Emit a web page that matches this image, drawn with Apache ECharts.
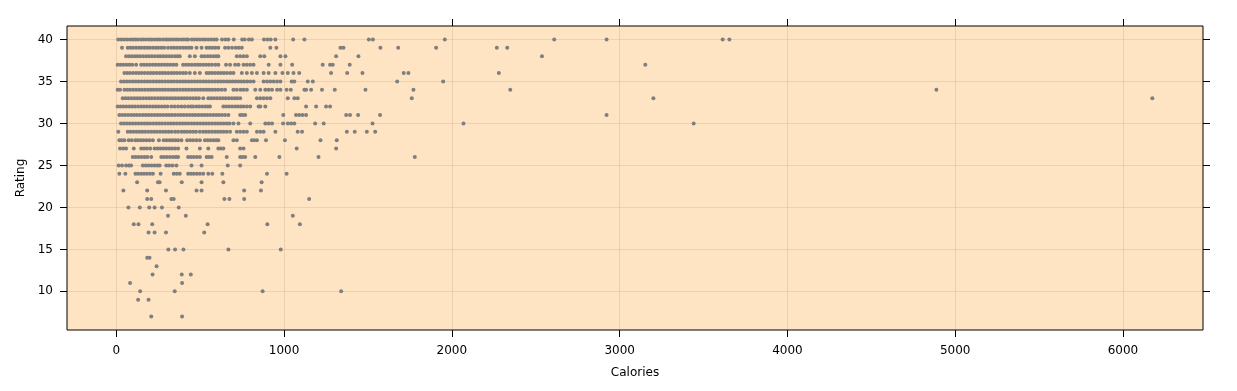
<!DOCTYPE html>
<html>
<head>
<meta charset="utf-8">
<script src="https://cdn.jsdelivr.net/npm/echarts@6/dist/echarts.min.js"></script>
<style>html,body{margin:0;padding:0;background:#fff;}#chart{width:1237px;height:391px;}</style>
</head>
<body>
<div id="chart"></div>
<script>
// Calories values, one list per rating level
const r40 = [12, 30, 48, 66, 84, 100, 115, 130, 148, 162, 178, 195, 210, 228, 245, 260, 278, 295, 308, 322, 338, 355, 370, 388, 402, 418, 428, 450, 465, 482, 498, 515, 530, 548, 565, 582, 598, 630, 650, 668, 700, 750, 765, 790, 808, 880, 900, 920, 948, 1054, 1121, 1505, 1529, 1958, 2610, 2922, 3614, 3654];
const r39 = [34, 68, 85, 100, 118, 135, 150, 168, 185, 200, 218, 235, 250, 268, 285, 308, 328, 345, 362, 380, 398, 415, 432, 448, 478, 508, 538, 555, 572, 590, 608, 648, 668, 690, 712, 730, 748, 918, 954, 1336, 1354, 1574, 1680, 1906, 2268, 2330];
const r38 = [58, 75, 92, 110, 125, 142, 160, 178, 195, 212, 230, 248, 262, 280, 298, 315, 332, 350, 365, 378, 438, 468, 508, 525, 545, 562, 580, 595, 608, 718, 738, 758, 778, 858, 882, 978, 1008, 1310, 1443, 2537];
const r37 = [8, 25, 42, 60, 78, 95, 118, 148, 165, 182, 200, 218, 235, 252, 270, 288, 305, 322, 340, 358, 398, 415, 432, 450, 468, 485, 500, 518, 535, 552, 570, 590, 608, 654, 678, 708, 728, 758, 778, 798, 818, 908, 978, 1048, 1230, 1274, 1290, 1391, 3153];
const r36 = [48, 65, 82, 100, 118, 135, 152, 170, 188, 205, 222, 240, 258, 275, 292, 310, 328, 345, 362, 380, 398, 415, 438, 468, 498, 538, 555, 572, 590, 608, 625, 642, 660, 680, 698, 748, 778, 808, 838, 878, 908, 948, 990, 1022, 1056, 1090, 1280, 1376, 1467, 1713, 1741, 2280];
const r35 = [28, 45, 62, 80, 98, 115, 132, 150, 168, 185, 202, 220, 238, 255, 272, 290, 308, 325, 342, 360, 378, 395, 412, 430, 448, 465, 482, 500, 518, 535, 552, 570, 588, 605, 622, 640, 658, 675, 692, 710, 728, 745, 762, 780, 798, 818, 878, 898, 918, 938, 958, 978, 1045, 1061, 1141, 1171, 1674, 1948];
const r34 = [8, 22, 48, 65, 82, 100, 118, 135, 152, 170, 188, 205, 222, 240, 258, 275, 292, 310, 328, 345, 362, 380, 398, 415, 432, 450, 468, 485, 502, 520, 538, 555, 572, 590, 608, 628, 648, 698, 718, 740, 758, 778, 828, 858, 888, 908, 928, 958, 978, 1015, 1040, 1121, 1131, 1161, 1226, 1302, 1485, 1771, 2348, 4888];
const r33 = [38, 55, 72, 90, 108, 125, 142, 160, 178, 195, 212, 230, 248, 265, 282, 300, 318, 335, 352, 370, 388, 405, 422, 440, 458, 475, 492, 518, 548, 565, 582, 600, 618, 635, 652, 670, 688, 705, 720, 738, 838, 858, 878, 898, 918, 1022, 1061, 1081, 1761, 3201, 6175];
const r32 = [8, 25, 42, 60, 78, 95, 112, 130, 148, 165, 182, 200, 218, 235, 252, 270, 288, 305, 328, 348, 368, 388, 408, 428, 445, 458, 478, 495, 512, 530, 545, 558, 638, 655, 672, 690, 708, 725, 742, 758, 778, 798, 848, 858, 888, 1131, 1191, 1250, 1274];
const r31 = [18, 35, 52, 70, 88, 105, 122, 140, 158, 175, 192, 210, 228, 245, 262, 280, 298, 315, 332, 350, 368, 385, 402, 420, 438, 455, 472, 490, 508, 525, 542, 560, 578, 595, 612, 630, 648, 668, 738, 752, 768, 995, 1071, 1090, 1110, 1131, 1370, 1393, 1441, 1572, 2922];
const r30 = [28, 45, 62, 80, 98, 115, 132, 150, 168, 185, 202, 220, 238, 255, 272, 290, 308, 325, 342, 360, 378, 395, 412, 430, 448, 465, 482, 500, 518, 535, 552, 570, 588, 605, 622, 640, 658, 675, 698, 728, 798, 888, 908, 928, 994, 1022, 1042, 1061, 1185, 1236, 1527, 2069, 3441];
const r29 = [12, 68, 85, 102, 120, 138, 155, 172, 190, 208, 225, 242, 260, 278, 295, 312, 330, 350, 368, 388, 405, 422, 440, 458, 475, 498, 518, 535, 552, 570, 588, 605, 622, 640, 658, 678, 718, 738, 758, 778, 838, 858, 878, 948, 1081, 1107, 1374, 1421, 1493, 1543];
const r28 = [18, 32, 48, 74, 92, 114, 128, 145, 162, 180, 198, 218, 254, 282, 300, 318, 335, 352, 368, 388, 422, 440, 458, 478, 498, 528, 545, 562, 580, 595, 608, 698, 718, 808, 822, 838, 892, 1005, 1217, 1314];
const r27 = [22, 40, 58, 104, 148, 165, 182, 202, 228, 245, 262, 280, 298, 315, 332, 350, 368, 418, 498, 548, 608, 622, 638, 738, 758, 1075, 1310];
const r26 = [98, 115, 132, 150, 168, 185, 208, 268, 285, 302, 320, 338, 355, 368, 428, 445, 462, 480, 498, 538, 552, 568, 658, 738, 752, 768, 828, 972, 1205, 1779];
const r25 = [14, 34, 58, 75, 88, 158, 175, 192, 210, 228, 245, 258, 298, 315, 335, 358, 448, 508, 664, 738];
const r24 = [18, 54, 114, 130, 148, 165, 182, 200, 218, 264, 342, 360, 378, 428, 445, 462, 480, 498, 518, 548, 572, 632, 898, 1015];
const r23 = [124, 248, 258, 390, 508, 638, 866];
const r22 = [42, 184, 296, 478, 508, 762, 862];
const r21 = [184, 208, 328, 342, 644, 674, 762, 1149];
const r20 = [72, 140, 196, 228, 272, 372];
const r19 = [308, 414, 1052];
const r18 = [104, 132, 214, 544, 900, 1094];
const r17 = [192, 228, 296, 524];
const r15 = [310, 350, 400, 668, 980];
const r14 = [184, 198];
const r13 = [240];
const r12 = [216, 390, 444];
const r11 = [82, 392];
const r10 = [142, 348, 872, 1340];
const r9 = [130, 192];
const r7 = [208, 392];

const ratingRows = [
  [40, r40], [39, r39], [38, r38], [37, r37], [36, r36], [35, r35], [34, r34],
  [33, r33], [32, r32], [31, r31], [30, r30], [29, r29], [28, r28], [27, r27],
  [26, r26], [25, r25], [24, r24], [23, r23], [22, r22], [21, r21], [20, r20],
  [19, r19], [18, r18], [17, r17], [15, r15], [14, r14], [13, r13], [12, r12],
  [11, r11], [10, r10], [9, r9], [7, r7]
];

const xTicks = [0, 1000, 2000, 3000, 4000, 5000, 6000];
const yTicks = [10, 15, 20, 25, 30, 35, 40];

const points = [];
ratingRows.forEach(([rating, cals]) => cals.forEach(c => points.push([c, rating])));

const FONT = 'DejaVu Sans';
const X_MIN = -294, X_MAX = 6477, Y_MIN = 5.4, Y_MAX = 41.6;
const gridColor = 'rgba(160,130,100,0.2)';
const plain = v => String(v);

const chart = echarts.init(document.getElementById('chart'), null, {renderer: 'canvas'});
chart.setOption({
  animation: false,
  backgroundColor: '#ffffff',
  textStyle: {fontFamily: FONT},
  grid: {
    left: 67, right: 34, top: 26, bottom: 61,
    show: true, backgroundColor: '#FFE4C4', borderColor: '#000000', borderWidth: 1,
    containLabel: false
  },
  xAxis: [{
    type: 'value', position: 'bottom', min: X_MIN, max: X_MAX, splitNumber: 5,
    name: 'Calories', nameLocation: 'middle', nameGap: 37,
    nameTextStyle: {color: '#000', fontSize: 12, fontFamily: FONT},
    axisLine: {show: false, onZero: false},
    axisTick: {show: true, length: 7, lineStyle: {color: '#000', width: 1}, customValues: xTicks},
    axisLabel: {show: true, margin: 15, color: '#000', fontSize: 12, fontFamily: FONT, customValues: xTicks, formatter: plain},
    splitLine: {show: true, lineStyle: {color: gridColor, width: 1}}
  }, {
    type: 'value', position: 'top', min: X_MIN, max: X_MAX, splitNumber: 5,
    axisLine: {show: false, onZero: false},
    axisTick: {show: true, length: 7, lineStyle: {color: '#000', width: 1}, customValues: xTicks},
    axisLabel: {show: false},
    splitLine: {show: false}
  }],
  yAxis: [{
    type: 'value', position: 'left', min: Y_MIN, max: Y_MAX, splitNumber: 7,
    name: 'Rating', nameLocation: 'middle', nameGap: 29,
    nameTextStyle: {color: '#000', fontSize: 12, fontFamily: FONT},
    axisLine: {show: false, onZero: false},
    axisTick: {show: true, length: 7, lineStyle: {color: '#000', width: 1}, customValues: yTicks},
    axisLabel: {show: true, margin: 14, color: '#000', fontSize: 12, fontFamily: FONT, customValues: yTicks, formatter: plain},
    splitLine: {show: true, lineStyle: {color: gridColor, width: 1}}
  }, {
    type: 'value', position: 'right', min: Y_MIN, max: Y_MAX, splitNumber: 7,
    axisLine: {show: false, onZero: false},
    axisTick: {show: true, length: 7, lineStyle: {color: '#000', width: 1}, customValues: yTicks},
    axisLabel: {show: false},
    splitLine: {show: false}
  }],
  series: [{
    type: 'scatter',
    xAxisIndex: 0, yAxisIndex: 0,
    data: points,
    symbol: 'circle',
    symbolSize: 4,
    itemStyle: {color: '#7f7f7f', opacity: 1},
    silent: true
  }]
});
</script>
</body>
</html>
